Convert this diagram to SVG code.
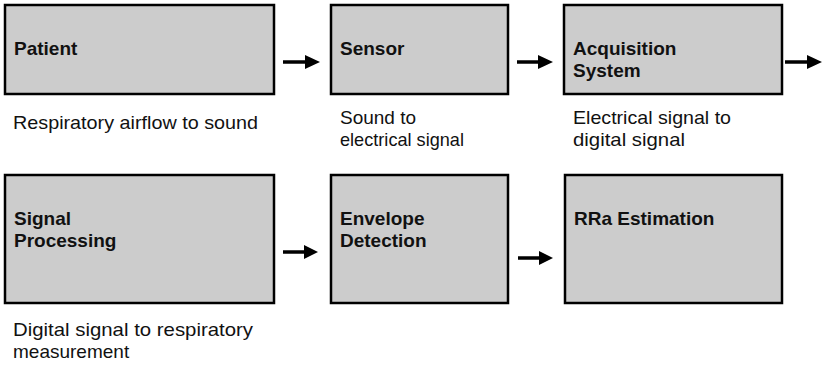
<svg xmlns="http://www.w3.org/2000/svg" width="826" height="367" viewBox="0 0 826 367">
<defs>
<style>
.box{fill:#cccccc;stroke:#000;stroke-width:2.5}
.lbl{font-family:"Liberation Sans",Arial,sans-serif;font-weight:bold;font-size:19px;fill:#111}
.desc{font-family:"Liberation Sans",Arial,sans-serif;font-size:19px;fill:#111}
.shaft{stroke:#000;stroke-width:3.5;fill:none}
.head{fill:#000}
</style>
</defs>
<rect width="826" height="367" fill="#fff"/>
<g id="patient">
<rect class="box" x="5" y="5" width="269" height="89"/>
<text class="lbl" x="14" y="55">Patient</text>
<text class="desc" x="13" y="129" textLength="245" lengthAdjust="spacingAndGlyphs">Respiratory airflow to sound</text>
</g>
<g id="sensor">
<rect class="box" x="331" y="5" width="177" height="89"/>
<text class="lbl" x="340" y="55">Sensor</text>
<text class="desc" x="340" y="124">Sound to</text>
<text class="desc" x="340" y="145.5" textLength="124" lengthAdjust="spacingAndGlyphs">electrical signal</text>
</g>
<g id="acquisition">
<rect class="box" x="564" y="5" width="218" height="89"/>
<text class="lbl" x="573" y="55">Acquisition</text>
<text class="lbl" x="573" y="76.5">System</text>
<text class="desc" x="573" y="124" textLength="158" lengthAdjust="spacingAndGlyphs">Electrical signal to</text>
<text class="desc" x="573" y="145.5" textLength="112" lengthAdjust="spacingAndGlyphs">digital signal</text>
</g>
<g id="signal-processing">
<rect class="box" x="5" y="175" width="269" height="128"/>
<text class="lbl" x="14" y="225">Signal</text>
<text class="lbl" x="14" y="246.5">Processing</text>
<text class="desc" x="13" y="336" textLength="240" lengthAdjust="spacingAndGlyphs">Digital signal to respiratory</text>
<text class="desc" x="13" y="357.5">measurement</text>
</g>
<g id="envelope-detection">
<rect class="box" x="331" y="175" width="177" height="128"/>
<text class="lbl" x="340" y="225">Envelope</text>
<text class="lbl" x="340" y="246.5">Detection</text>
</g>
<g id="rra-estimation">
<rect class="box" x="565" y="175" width="217" height="128"/>
<text class="lbl" x="574" y="225">RRa Estimation</text>
</g>
<g id="connectors">
<line class="shaft" x1="283" y1="62" x2="307" y2="62"/><polygon class="head" points="305,55 320,62 305,69"/>
<line class="shaft" x1="517" y1="62" x2="540" y2="62"/><polygon class="head" points="538,55 553,62 538,69"/>
<line class="shaft" x1="785" y1="62" x2="809" y2="62"/><polygon class="head" points="807,55 822,62 807,69"/>
<line class="shaft" x1="283" y1="252" x2="306" y2="252"/><polygon class="head" points="304,245 318,252 304,259"/>
<line class="shaft" x1="518" y1="258" x2="541" y2="258"/><polygon class="head" points="539,251 553,258 539,265"/>
</g>
</svg>
